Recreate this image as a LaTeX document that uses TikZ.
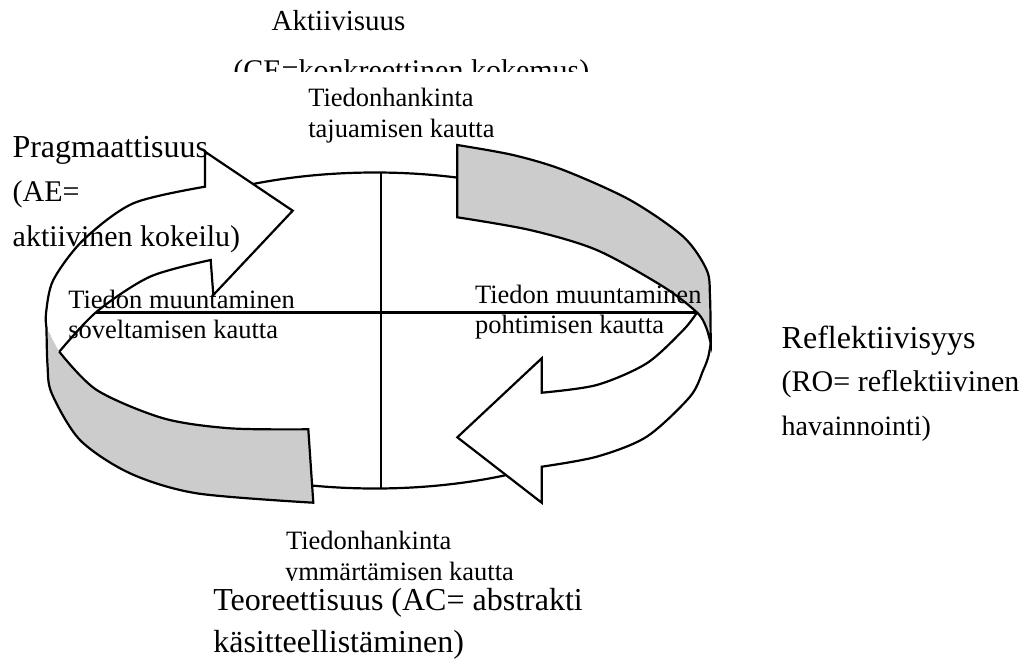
\documentclass[tikz,border=0pt]{standalone}
\usepackage{fontspec}
\setmainfont{Liberation Serif}
\definecolor{bandgray}{RGB}{204,204,204}
\begin{document}
\begin{tikzpicture}[x=0.5pt,y=-0.5pt,
  outline/.style={line width=1.1pt, line join=miter},
  lbl/.style={anchor=base west, inner sep=0pt, outer sep=0pt},
  bigtxt/.style={font=\fontsize{16}{19}\selectfont},
  midtxt/.style={font=\fontsize{15}{18}\selectfont},
  smalltxt/.style={font=\fontsize{13.25}{16}\selectfont}]
\useasboundingbox (0,0) rectangle (1022,664);

% central disc with its cross
\coordinate (c) at (375,330.5);
\coordinate (vt) at (381,172.5);
\coordinate (vb) at (381,488.5);
\coordinate (hl) at (52,312.5);
\coordinate (hr) at (697,312.5);
\draw[outline] (c) ellipse [x radius=162.5pt, y radius=79pt];
\draw[outline] (vt) -- (vb);
\draw[outline] (hl) -- (hr);

% ---- fills ----
% upper right band
\fill[bandgray]
  plot[smooth] coordinates {(457.3,145) (513,155) (563.3,170) (630,200) (683.3,236.7) (706.7,270) (710,296.7) (710.7,343.3)}
  -- plot[smooth] coordinates {(710.7,343.3) (706,327) (697,312.5) (663.3,286.7) (596.7,250) (530,230) (457.3,217.3)}
  -- cycle;
% lower left band
\fill[bandgray]
  plot[smooth] coordinates {(46.5,328) (47.5,365) (51.7,393.3) (80,440) (130,473.3) (196.7,493.3) (313.3,502.7)}
  -- (308.3,429.3)
  -- plot[smooth] coordinates {(308.3,429.3) (230,428.3) (163.3,418.3) (96.7,390) (59.3,351.7)}
  -- cycle;
% left arrow
\fill[white]
  plot[smooth] coordinates {(46.5,328) (46,313.3) (53.3,280) (83.3,240) (133.3,203.3) (205,186.7)}
  -- (205,151.7) -- (292.7,210.7) -- (213.3,295) -- (210.7,260)
  -- plot[smooth] coordinates {(210.7,260) (150,276.7) (96.7,311.7) (59.3,351.7)}
  -- cycle;
% right arrow
\fill[white]
  plot[smooth] coordinates {(697,312.5) (683.3,330) (646.7,363.3) (596.7,385) (541.7,392.7)}
  -- (541.7,358.3) -- (457.3,437.3) -- (541.7,502.7) -- (541.7,466.7)
  -- plot[smooth] coordinates {(541.7,466.7) (596.7,456.7) (646.7,436.7) (690,396.7) (703.3,370) (708.3,356.7) (710.7,343.3)}
  -- plot[smooth] coordinates {(710.7,343.3) (706,327) (697,312.5)}
  -- cycle;

% ---- outlines ----
\draw[outline]
  plot[smooth] coordinates {(457.3,145) (513,155) (563.3,170) (630,200) (683.3,236.7) (706.7,270) (710,296.7) (710.7,343.3)}
  -- plot[smooth] coordinates {(710.7,343.3) (706,327) (697,312.5) (663.3,286.7) (596.7,250) (530,230) (457.3,217.3)}
  -- cycle;
\draw[outline]
  plot[smooth] coordinates {(46.5,328) (47.5,365) (51.7,393.3) (80,440) (130,473.3) (196.7,493.3) (313.3,502.7)}
  -- (308.3,429.3)
  -- plot[smooth] coordinates {(308.3,429.3) (230,428.3) (163.3,418.3) (96.7,390) (59.3,351.7)};
\draw[outline]
  plot[smooth] coordinates {(46.5,328) (46,313.3) (53.3,280) (83.3,240) (133.3,203.3) (205,186.7)}
  -- (205,151.7) -- (292.7,210.7) -- (213.3,295) -- (210.7,260)
  -- plot[smooth] coordinates {(210.7,260) (150,276.7) (96.7,311.7) (59.3,351.7)};
\draw[outline]
  plot[smooth] coordinates {(697,312.5) (683.3,330) (646.7,363.3) (596.7,385) (541.7,392.7)}
  -- (541.7,358.3) -- (457.3,437.3) -- (541.7,502.7) -- (541.7,466.7)
  -- plot[smooth] coordinates {(541.7,466.7) (596.7,456.7) (646.7,436.7) (690,396.7) (703.3,370) (708.3,356.7) (710.7,343.3)};

% ---- labels ----
\node[lbl, font=\fontsize{14.5}{17}\selectfont] (akt) at (271.7,30.5) {Aktiivisuus};
\begin{scope}
  \clip (0,0) rectangle (1022,71.7);
  \node[lbl, midtxt] (ce) at (233.3,80) {(CE=konkreettinen kokemus)};
\end{scope}
\node[lbl, smalltxt] (th1) at (308.3,106.7) {Tiedonhankinta};
\node[lbl, smalltxt] (th2) at (308.3,137) {tajuamisen kautta};

\node[lbl, bigtxt] (prag) at (12.5,157) {Pragmaattisuus};
\node[lbl, midtxt] (ae1) at (12.7,201.7) {(AE=};
\node[lbl, midtxt] (ae2) at (12.7,246.7) {aktiivinen kokeilu)};

\node[lbl, smalltxt] (tm1) at (68.3,308.3) {Tiedon muuntaminen};
\node[lbl, smalltxt] (tm2) at (68.3,338.3) {soveltamisen kautta};
\node[lbl, smalltxt] (tm3) at (475,303.3) {Tiedon muuntaminen};
\node[lbl, smalltxt] (tm4) at (475,333.3) {pohtimisen kautta};

\node[lbl, bigtxt] (refl) at (781.7,348.3) {Reflektiivisyys};
\node[lbl, midtxt] (ro1) at (781.7,391.7) {(RO= reflektiivinen};
\node[lbl, font=\fontsize{14}{17}\selectfont] (ro2) at (781.7,435) {havainnointi)};

\node[lbl, smalltxt] (th3) at (286,549.3) {Tiedonhankinta};
\begin{scope}
  \clip (0,0) rectangle (1022,580);
  \node[lbl, smalltxt] (th4) at (285,580) {ymmärtämisen kautta};
\end{scope}
\node[lbl, bigtxt] (teo1) at (213.3,610) {Teoreettisuus (AC= abstrakti};
\node[lbl, bigtxt] (teo2) at (213.3,652.7) {käsitteellistäminen)};
\end{tikzpicture}
\end{document}
